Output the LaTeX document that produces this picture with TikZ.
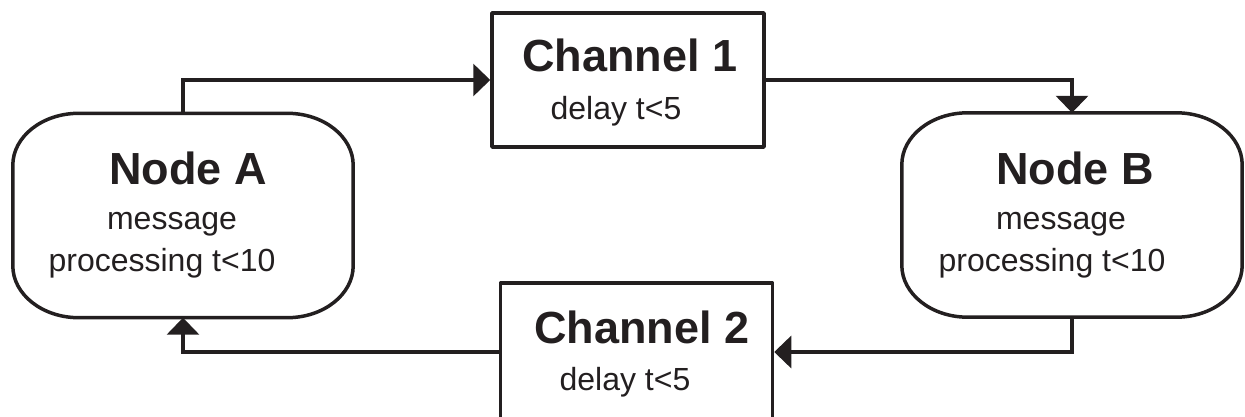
\documentclass[tikz,border=0pt]{standalone}
\usepackage{fontspec}
\setmainfont{Liberation Sans}
\usetikzlibrary{arrows.meta}
\definecolor{ink}{RGB}{35,31,32}
\newcommand\drawoval[1]{%
  \draw[boxline] ([xshift=66pt]#1.north west) -- ([xshift=-66pt]#1.north east)
    arc[start angle=90,end angle=0,x radius=66pt,y radius=52pt]
    -- ([yshift=52pt]#1.south east)
    arc[start angle=0,end angle=-90,x radius=66pt,y radius=52pt]
    -- ([xshift=66pt]#1.south west)
    arc[start angle=-90,end angle=-180,x radius=66pt,y radius=52pt]
    -- ([yshift=-52pt]#1.north west)
    arc[start angle=180,end angle=90,x radius=66pt,y radius=52pt] -- cycle;}
\begin{document}
\begin{tikzpicture}[x=1pt,y=-1pt,
  boxline/.style={draw=ink,line width=3.5pt,line join=round},
  chanbox/.style={boxline,rectangle,inner sep=0pt,minimum width=272pt},
  ovalarea/.style={rectangle,draw=none,inner sep=0pt,minimum width=340pt,minimum height=204pt},
  title/.style={anchor=base,inner sep=0pt,text=ink,font=\fontsize{45}{54}\selectfont\bfseries},
  sub/.style={anchor=base,inner sep=0pt,text=ink,font=\fontsize{32}{38}\selectfont},
  conn/.style={draw=ink,line width=3.3pt,-{Triangle[length=17pt,width=32pt]}}]
\useasboundingbox (0,0) rectangle (1245,417);
\clip (0,0) rectangle (1245,417);
% Channel boxes
\node[chanbox,minimum height=134pt] (c1) at (628,80) {};
\node[chanbox,minimum height=138pt] (c2) at (636.5,352) {};
% Node outlines
\node[ovalarea] (nA) at (183,215.5) {};
\node[ovalarea] (nB) at (1072,215) {};
\drawoval{nA}
\drawoval{nB}
% Texts
\node[title] (c1t) at (630,72) {Channel 1};
\node[sub] (c1s) at (616,120) {delay t<5};
\node[title] (c2t) at (642,343) {Channel 2};
\node[sub] (c2s) at (625,390) {delay t<5};
\node[title] (nAt) at (188,185) {Node A};
\node[sub] (nAm) at (172,229) {message};
\node[sub] (nAp) at (162,271) {processing t<10};
\node[title] (nBt) at (1075,185) {Node B};
\node[sub] (nBm) at (1061,229) {message};
\node[sub] (nBp) at (1052,271) {processing t<10};
% Connectors
\draw[conn] (nA.north) |- (c1.west);
\draw[conn] (c1.east) -| (nB.north);
\draw[conn] (nB.south) |- (c2.east);
\draw[conn] (c2.west) -| (nA.south);
\end{tikzpicture}
\end{document}
